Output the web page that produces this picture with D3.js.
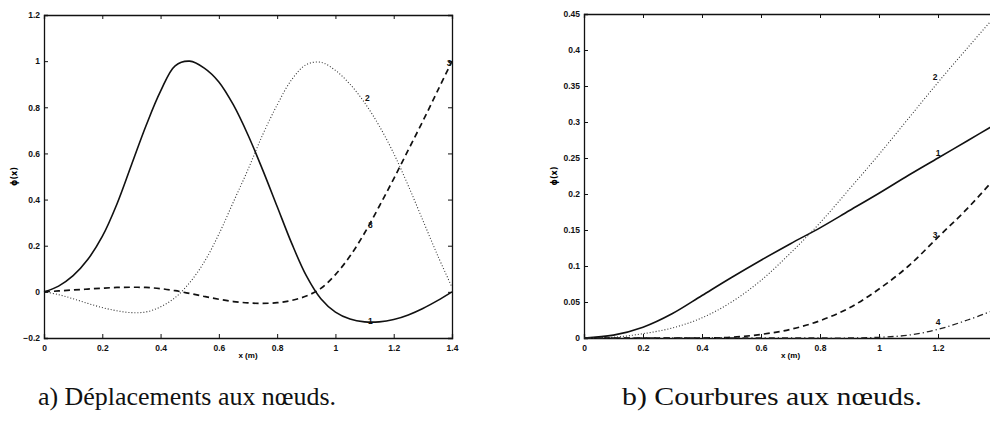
<!DOCTYPE html>
<html>
<head>
<meta charset="utf-8">
<script src="https://cdn.jsdelivr.net/npm/d3@7"></script>
<style>
  html, body { margin: 0; padding: 0; background: #fff; }
  svg { display: block; }
  .tick text { font-family: "Liberation Sans", Arial, sans-serif; font-size: 8.5px; font-weight: bold; fill: #111; }
  .tick line, .domain { stroke: #111; }
</style>
</head>
<body>
<svg id="fig" width="990" height="435"></svg>
<script>
// ---- a) nodal displacement shape functions ----
const xA = [0, 0.05, 0.1, 0.15, 0.2, 0.25, 0.3, 0.35, 0.4, 0.45, 0.5, 0.55, 0.6, 0.65, 0.7, 0.75, 0.8, 0.85, 0.9, 0.95, 1.0, 1.05, 1.1, 1.15, 1.2, 1.25, 1.3, 1.35, 1.4];
const dispMode1 = [0, 0.025, 0.07, 0.14, 0.24, 0.38, 0.55, 0.72, 0.87, 0.98, 1.0, 0.97, 0.91, 0.81, 0.68, 0.53, 0.37, 0.21, 0.07, -0.03, -0.088, -0.118, -0.13, -0.13, -0.12, -0.1, -0.072, -0.038, 0];
const dispMode2 = [0, -0.012, -0.03, -0.05, -0.068, -0.082, -0.09, -0.087, -0.065, -0.025, 0.04, 0.13, 0.25, 0.39, 0.53, 0.68, 0.81, 0.92, 0.985, 0.995, 0.96, 0.9, 0.82, 0.72, 0.6, 0.46, 0.31, 0.16, 0.02];
const dispMode3 = [0, 0.004, 0.008, 0.012, 0.016, 0.019, 0.02, 0.019, 0.014, 0.005, -0.007, -0.02, -0.032, -0.042, -0.048, -0.05, -0.047, -0.037, -0.018, 0.015, 0.075, 0.155, 0.255, 0.37, 0.49, 0.615, 0.74, 0.87, 1.0];
const ticksXA = [0, 0.2, 0.4, 0.6, 0.8, 1, 1.2, 1.4];
const ticksYA = [-0.2, 0, 0.2, 0.4, 0.6, 0.8, 1, 1.2];

// ---- b) nodal curvature functions ----
const xB = [0, 0.1, 0.2, 0.3, 0.4, 0.5, 0.6, 0.7, 0.8, 0.9, 1.0, 1.1, 1.2, 1.3, 1.4];
const curvMode1 = [0, 0.004, 0.015, 0.034, 0.059, 0.084, 0.108, 0.131, 0.153, 0.177, 0.201, 0.226, 0.25, 0.274, 0.298];
const curvMode2 = [0, 0.001, 0.006, 0.014, 0.028, 0.05, 0.08, 0.118, 0.16, 0.207, 0.255, 0.305, 0.355, 0.403, 0.45];
const curvMode3 = [0, 0, 0, 0, 0, 0.001, 0.005, 0.012, 0.024, 0.042, 0.068, 0.1, 0.14, 0.18, 0.225];
const curvMode4 = [0, 0, 0, 0, 0, 0, 0, 0, 0, 0, 0.001, 0.004, 0.012, 0.025, 0.04];
const ticksXB = [0, 0.2, 0.4, 0.6, 0.8, 1, 1.2];
const ticksYB = [0, 0.05, 0.1, 0.15, 0.2, 0.25, 0.3, 0.35, 0.4, 0.45];

const svg = d3.select("#fig");

const styles = {
  solid:   { width: 1.6, dash: null,        color: "#111" },
  dotted:  { width: 1.1, dash: "1,2",       color: "#333" },
  dashed:  { width: 1.7, dash: "6,4",       color: "#111" },
  dashdot: { width: 1.3, dash: "6,3,1.2,3", color: "#222" }
};

function panel(cfg) {
  const { left, right, top, bottom } = cfg.box;
  const x = d3.scaleLinear().domain(cfg.xDomain).range([left, right]);
  const y = d3.scaleLinear().domain(cfg.yDomain).range([bottom, top]);
  const g = svg.append("g");

  const fmt = d => d3.format("")(+d.toFixed(2));
  // bottom / left axes with labels, inward ticks
  g.append("g").attr("transform", `translate(0,${bottom})`)
    .call(d3.axisBottom(x).tickValues(cfg.xTicks).tickSize(-4).tickPadding(7).tickFormat(fmt));
  g.append("g").attr("transform", `translate(${left},0)`)
    .call(d3.axisLeft(y).tickValues(cfg.yTicks).tickSize(-4).tickPadding(4).tickFormat(fmt));
  // top / right axes closing the box
  g.append("g").attr("transform", `translate(0,${top})`)
    .call(d3.axisTop(x).tickValues(cfg.xTicks).tickSize(-4).tickFormat(""));
  g.append("g").attr("transform", `translate(${right},0)`)
    .call(d3.axisRight(y).tickValues(cfg.yTicks).tickSize(-4).tickFormat(""));
  g.selectAll(".domain").attr("stroke-width", 1.3);

  const line = d3.line().x(d => x(d[0])).y(d => y(d[1])).curve(d3.curveCatmullRom.alpha(0.5));
  cfg.series.forEach(s => {
    const st = styles[s.style];
    g.append("path")
      .datum(cfg.xs.map((v, i) => [v, s.values[i]]))
      .attr("d", line)
      .attr("fill", "none")
      .attr("stroke", st.color)
      .attr("stroke-width", st.width)
      .attr("stroke-dasharray", st.dash);
    (s.labels || []).forEach(lb => {
      g.append("text")
        .attr("x", x(lb[0])).attr("y", y(lb[1]))
        .attr("text-anchor", "middle").attr("dy", "0.35em")
        .style("font-family", "Liberation Sans, Arial, sans-serif")
        .style("font-size", "8.5px").style("font-weight", "bold")
        .attr("fill", "#111")
        .text(s.name);
    });
  });

  g.append("text")
    .attr("x", x(0.7)).attr("y", bottom + 20)
    .attr("text-anchor", "middle")
    .style("font-family", "Liberation Sans, Arial, sans-serif")
    .style("font-size", "8px").style("font-weight", "bold")
    .text("x (m)");
  g.append("text")
    .attr("transform", `translate(${left - 27},${(top + bottom) / 2}) rotate(-90)`)
    .attr("text-anchor", "middle")
    .style("font-family", "DejaVu Sans, sans-serif")
    .style("font-size", "8px").style("font-weight", "bold")
    .text("ϕ(x)");

  svg.append("text")
    .attr("x", cfg.caption.x).attr("y", 405)
    .attr("text-anchor", "middle")
    .attr("textLength", cfg.caption.width)
    .attr("lengthAdjust", "spacingAndGlyphs")
    .style("font-family", "Liberation Serif, serif")
    .style("font-size", "25px")
    .attr("fill", "#111")
    .text(cfg.caption.text);
}

panel({
  box: { left: 44, right: 452, top: 15, bottom: 338 },
  xDomain: [0, 1.4], yDomain: [-0.2, 1.2],
  xTicks: ticksXA, yTicks: ticksYA, xs: xA,
  series: [
    { name: "1", style: "solid", values: dispMode1, labels: [[1.12, -0.125]] },
    { name: "2", style: "dotted", values: dispMode2, labels: [[1.11, 0.84]] },
    { name: "3", style: "dashed", values: dispMode3, labels: [[1.12, 0.29], [1.39, 0.99]] }
  ],
  caption: { x: 187, width: 298, text: "a) Déplacements aux nœuds." }
});

panel({
  box: { left: 584, right: 997, top: 14, bottom: 338 },
  xDomain: [0, 1.4], yDomain: [0, 0.45],
  xTicks: ticksXB, yTicks: ticksYB, xs: xB,
  series: [
    { name: "1", style: "solid", values: curvMode1, labels: [[1.2, 0.257]] },
    { name: "2", style: "dotted", values: curvMode2, labels: [[1.19, 0.362]] },
    { name: "3", style: "dashed", values: curvMode3, labels: [[1.19, 0.143]] },
    { name: "4", style: "dashdot", values: curvMode4, labels: [[1.2, 0.022]] }
  ],
  caption: { x: 772, width: 300, text: "b) Courbures aux nœuds." }
});
</script>
</body>
</html>
